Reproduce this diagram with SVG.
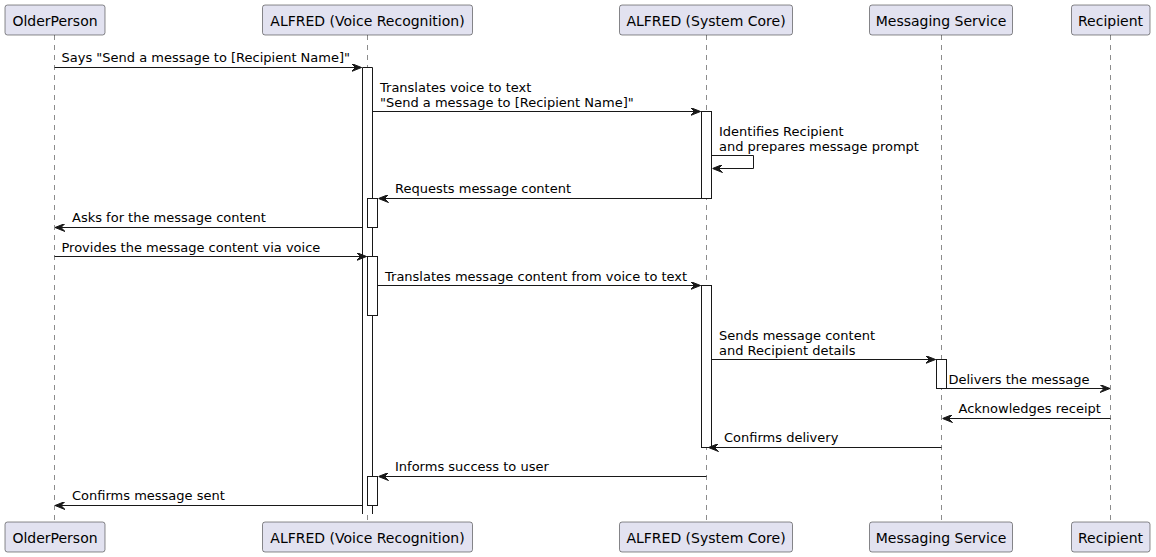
<svg xmlns="http://www.w3.org/2000/svg" width="1156" height="557" viewBox="0 0 1156 557">
<style>
.box{fill:#E2E2F0;stroke:#181818;stroke-width:0.5}
.pt{font-family:"DejaVu Sans",sans-serif;font-size:14px;fill:#000;text-anchor:middle}
.life{stroke:#181818;stroke-width:0.5;stroke-dasharray:5,5;fill:none}
.act{fill:#FFFFFF;stroke:#181818;stroke-width:1}
.msg{stroke:#181818;stroke-width:1;fill:none}
.ml{font-family:"DejaVu Sans",sans-serif;font-size:13px;fill:#000}
</style>
<defs>
<marker id="ah" viewBox="0 0 10 8" refX="10" refY="4" markerWidth="10" markerHeight="8" markerUnits="userSpaceOnUse" orient="auto">
<polygon points="0,0 10,4 0,8 4,4" fill="#181818" stroke="#181818" stroke-width="1"/>
</marker>
</defs>
<rect width="1156" height="557" fill="#FFFFFF"/>
<g id="lifelines">
<line class="life" x1="54.5" y1="35" x2="54.5" y2="522"/>
<line class="life" x1="367.5" y1="35" x2="367.5" y2="522"/>
<line class="life" x1="706.5" y1="35" x2="706.5" y2="522"/>
<line class="life" x1="941.5" y1="35" x2="941.5" y2="522"/>
<line class="life" x1="1110.5" y1="35" x2="1110.5" y2="522"/>
</g>
<g id="activations">
<rect x="362.5" y="67.5" width="10" height="447" fill="#FFFFFF" stroke="none"/>
<path class="act" d="M362.5,514 V67.5 H372.5 V514" fill="none"/>
<rect class="act" x="367.5" y="198.5" width="10" height="29"/>
<rect class="act" x="367.5" y="256.5" width="10" height="59"/>
<rect class="act" x="367.5" y="476.5" width="10" height="29"/>
<rect class="act" x="701.5" y="111.5" width="10" height="87"/>
<rect class="act" x="701.5" y="285.5" width="10" height="162"/>
<rect class="act" x="936.5" y="359.5" width="10" height="29"/>
</g>
<g id="participant-olderperson">
<rect class="box" x="5" y="5" width="100" height="30" rx="2.5"/>
<text class="pt" x="55" y="26">OlderPerson</text>
<rect class="box" x="5" y="522" width="100" height="30" rx="2.5"/>
<text class="pt" x="55" y="543">OlderPerson</text>
</g>
<g id="participant-voice">
<rect class="box" x="262.5" y="5" width="210" height="30" rx="2.5"/>
<text class="pt" x="367.5" y="26">ALFRED (Voice Recognition)</text>
<rect class="box" x="262.5" y="522" width="210" height="30" rx="2.5"/>
<text class="pt" x="367.5" y="543">ALFRED (Voice Recognition)</text>
</g>
<g id="participant-core">
<rect class="box" x="619.5" y="5" width="173" height="30" rx="2.5"/>
<text class="pt" x="706" y="26">ALFRED (System Core)</text>
<rect class="box" x="619.5" y="522" width="173" height="30" rx="2.5"/>
<text class="pt" x="706" y="543">ALFRED (System Core)</text>
</g>
<g id="participant-messaging">
<rect class="box" x="869.5" y="5" width="143" height="30" rx="2.5"/>
<text class="pt" x="941" y="26">Messaging Service</text>
<rect class="box" x="869.5" y="522" width="143" height="30" rx="2.5"/>
<text class="pt" x="941" y="543">Messaging Service</text>
</g>
<g id="participant-recipient">
<rect class="box" x="1071.5" y="5" width="78.5" height="30" rx="2.5"/>
<text class="pt" x="1110.5" y="26">Recipient</text>
<rect class="box" x="1071.5" y="522" width="78.5" height="30" rx="2.5"/>
<text class="pt" x="1110.5" y="543">Recipient</text>
</g>
<g id="connectors">
<line class="msg" x1="54.5" y1="67.5" x2="361.5" y2="67.5" marker-end="url(#ah)"/>
<text class="ml" x="61.5" y="62">Says "Send a message to [Recipient Name]"</text>
<line class="msg" x1="372.5" y1="111.5" x2="700.5" y2="111.5" marker-end="url(#ah)"/>
<text class="ml" x="380" y="92">Translates voice to text</text>
<text class="ml" x="380" y="107">"Send a message to [Recipient Name]"</text>
<polyline class="msg" points="711.5,155.5 753.5,155.5 753.5,168.5 712.5,168.5" marker-end="url(#ah)"/>
<text class="ml" x="719" y="136">Identifies Recipient</text>
<text class="ml" x="719" y="151">and prepares message prompt</text>
<line class="msg" x1="701.5" y1="198.5" x2="378.5" y2="198.5" marker-end="url(#ah)"/>
<text class="ml" x="395" y="193">Requests message content</text>
<line class="msg" x1="362.5" y1="227.5" x2="55" y2="227.5" marker-end="url(#ah)"/>
<text class="ml" x="72" y="222">Asks for the message content</text>
<line class="msg" x1="54.5" y1="256.5" x2="366.5" y2="256.5" marker-end="url(#ah)"/>
<text class="ml" x="61.5" y="252">Provides the message content via voice</text>
<line class="msg" x1="377.5" y1="285.5" x2="700.5" y2="285.5" marker-end="url(#ah)"/>
<text class="ml" x="385" y="280.5">Translates message content from voice to text</text>
<line class="msg" x1="711.5" y1="359.5" x2="935.5" y2="359.5" marker-end="url(#ah)"/>
<text class="ml" x="719" y="340">Sends message content</text>
<text class="ml" x="719" y="355">and Recipient details</text>
<line class="msg" x1="946.5" y1="388.5" x2="1110" y2="388.5" marker-end="url(#ah)"/>
<text class="ml" x="948.5" y="383.5">Delivers the message</text>
<line class="msg" x1="1110.5" y1="418.5" x2="942.5" y2="418.5" marker-end="url(#ah)"/>
<text class="ml" x="958.5" y="413">Acknowledges receipt</text>
<line class="msg" x1="941.5" y1="447.5" x2="708.5" y2="447.5" marker-end="url(#ah)"/>
<text class="ml" x="724" y="442">Confirms delivery</text>
<line class="msg" x1="706.5" y1="476.5" x2="378.5" y2="476.5" marker-end="url(#ah)"/>
<text class="ml" x="395" y="471">Informs success to user</text>
<line class="msg" x1="362.5" y1="505.5" x2="55" y2="505.5" marker-end="url(#ah)"/>
<text class="ml" x="72" y="500">Confirms message sent</text>
</g>
</svg>
